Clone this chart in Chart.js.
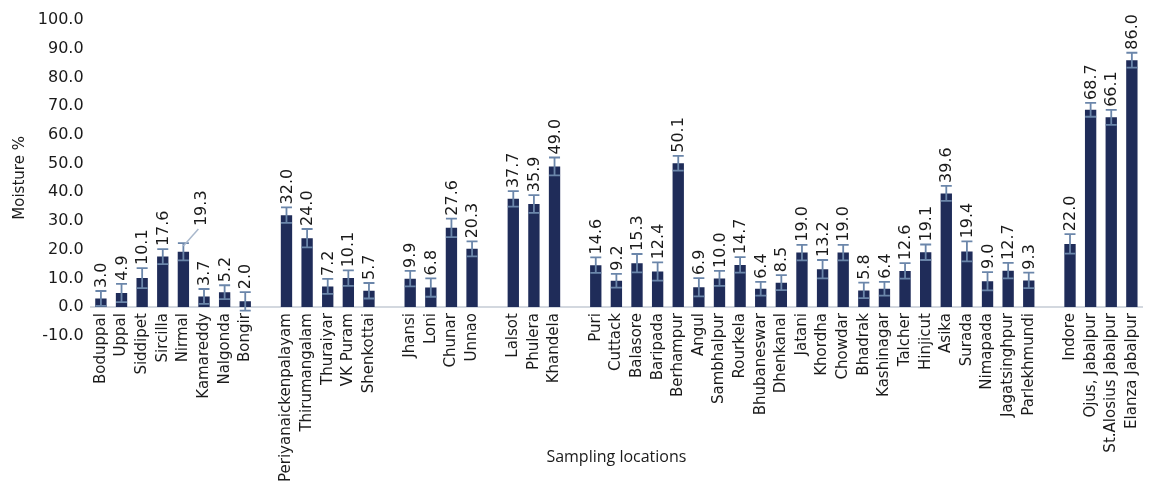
<!DOCTYPE html>
<html>
<head>
<meta charset="utf-8">
<title>Moisture by sampling location</title>
<script src="https://cdn.jsdelivr.net/npm/chart.js@4.4.0/dist/chart.umd.min.js"></script>
<style>
    html, body { margin: 0; padding: 0; background: #ffffff; }
    #chartWrap { width: 1156px; height: 489px; position: relative; }
</style>
</head>
<body>
<div id="chartWrap"><canvas id="moistureChart"></canvas></div>
<script>
// empty strings / nulls leave a blank slot between regions
const locations = [
    'Boduppal', 'Uppal', 'Siddipet', 'Sircilla', 'Nirmal', 'Kamareddy', 'Nalgonda', 'Bongir', '',
    'Periyanaickenpalayam', 'Thirumangalam', 'Thuraiyar', 'VK Puram', 'Shenkottai', '',
    'Jhansi', 'Loni', 'Chunar', 'Unnao', '',
    'Lalsot', 'Phulera', 'Khandela', '',
    'Puri', 'Cuttack', 'Balasore', 'Baripada', 'Berhampur', 'Angul', 'Sambhalpur', 'Rourkela',
    'Bhubaneswar', 'Dhenkanal', 'Jatani', 'Khordha', 'Chowdar', 'Bhadrak', 'Kashinagar', 'Talcher',
    'Hinjicut', 'Asika', 'Surada', 'Nimapada', 'Jagatsinghpur', 'Parlekhmundi', '',
    'Indore', 'Ojus, Jabalpur', 'St.Alosius Jabalpur', 'Elanza Jabalpur'
];

const moisture = [
    3.0, 4.9, 10.1, 17.6, 19.3, 3.7, 5.2, 2.0, null,
    32.0, 24.0, 7.2, 10.1, 5.7, null,
    9.9, 6.8, 27.6, 20.3, null,
    37.7, 35.9, 49.0, null,
    14.6, 9.2, 15.3, 12.4, 50.1, 6.9, 10.0, 14.7,
    6.4, 8.5, 19.0, 13.2, 19.0, 5.8, 6.4, 12.6,
    19.1, 39.6, 19.4, 9.0, 12.7, 9.3, null,
    22.0, 68.7, 66.1, 86.0
];

// standard deviation (±) per location
const errors = [
    2.6, 3.2, 3.5, 2.6, 3.0, 2.6, 2.4, 3.2, null,
    2.7, 3.2, 2.6, 2.7, 2.7, null,
    2.7, 3.2, 3.2, 2.6, null,
    2.7, 3.1, 3.1, null,
    2.7, 2.4, 3.2, 3.2, 2.6, 3.2, 2.6, 2.7,
    2.4, 2.6, 2.7, 3.2, 2.7, 2.7, 2.4, 2.7,
    2.7, 2.6, 3.5, 3.2, 2.7, 2.7, null,
    3.4, 2.4, 2.6, 2.6
];

const yMin = -10;
const yMax = 100;
const yStep = 10;

const errorBarPlugin = {
    id: 'errorBars',
    afterDatasetsDraw(chart, args, opts) {
        const ctx = chart.ctx;
        const yScale = chart.scales.y;
        const meta = chart.getDatasetMeta(0);
        const half = opts.capWidth / 2;

        ctx.save();
        ctx.strokeStyle = opts.color;
        ctx.lineWidth = opts.lineWidth;
        meta.data.forEach((bar, i) => {
            if (moisture[i] === null) return;
            const top = yScale.getPixelForValue(moisture[i] + errors[i]);
            const bottom = yScale.getPixelForValue(moisture[i] - errors[i]);
            ctx.beginPath();
            ctx.moveTo(bar.x, top);
            ctx.lineTo(bar.x, bottom);
            ctx.moveTo(bar.x - half, top);
            ctx.lineTo(bar.x + half, top);
            ctx.moveTo(bar.x - half, bottom);
            ctx.lineTo(bar.x + half, bottom);
            ctx.stroke();
        });
        ctx.restore();
    }
};

const valueLabelPlugin = {
    id: 'valueLabels',
    afterDatasetsDraw(chart, args, opts) {
        const ctx = chart.ctx;
        const yScale = chart.scales.y;
        const meta = chart.getDatasetMeta(0);

        ctx.save();
        ctx.font = opts.font;
        ctx.fillStyle = opts.color;
        ctx.textAlign = 'left';
        ctx.textBaseline = 'middle';
        meta.data.forEach((bar, i) => {
            if (moisture[i] === null) return;
            const capTop = yScale.getPixelForValue(moisture[i] + errors[i]);
            let x = bar.x + 1;
            let y = capTop - opts.gap;
            const nudge = opts.nudge[locations[i]];
            if (nudge) {
                x += nudge.dx;
                y += nudge.dy;
                // leader line back to the bar
                ctx.strokeStyle = opts.leaderColor;
                ctx.lineWidth = 1.5;
                ctx.beginPath();
                ctx.moveTo(bar.x, capTop + 3);
                ctx.lineTo(x - 3, y + 3);
                ctx.stroke();
            }
            ctx.save();
            ctx.translate(x, y);
            ctx.rotate(-Math.PI / 2);
            ctx.fillText(moisture[i].toFixed(1), 0, 0);
            ctx.restore();
        });
        ctx.restore();
    }
};

function createMoistureChart() {
    const ctx = document.getElementById('moistureChart').getContext('2d');

    new Chart(ctx, {
        type: 'bar',
        data: {
            labels: locations,
            datasets: [{
                label: 'Moisture %',
                data: moisture,
                backgroundColor: '#1f2c59',
                borderWidth: 0,
                barPercentage: 0.55,
                categoryPercentage: 1.0
            }]
        },
        options: {
            responsive: true,
            maintainAspectRatio: false,
            animation: false,
            layout: {
                padding: { top: 20, right: 4.6, bottom: 0, left: 0 }
            },
            plugins: {
                legend: { display: false },
                tooltip: { enabled: false },
                title: {
                    display: true,
                    text: 'Sampling locations',
                    position: 'bottom',
                    fullSize: false,
                    color: '#1a1a1a',
                    font: { family: 'Open Sans', size: 16, weight: 'normal' },
                    padding: { top: 112, bottom: 22 }
                },
                errorBars: {
                    color: '#6b86aa',
                    lineWidth: 1.8,
                    capWidth: 11
                },
                valueLabels: {
                    font: '16px "DejaVu Sans"',
                    color: '#1a1a1a',
                    gap: 3,
                    leaderColor: '#a9b8cc',
                    nudge: { 'Nirmal': { dx: 17, dy: -14 } }
                }
            },
            scales: {
                x: {
                    position: { y: 0 },
                    grid: { display: false, drawTicks: false },
                    border: { display: true, color: '#d3d8df', width: 2 },
                    ticks: {
                        autoSkip: false,
                        minRotation: 90,
                        maxRotation: 90,
                        padding: 6,
                        color: '#1a1a1a',
                        font: { family: 'DejaVu Sans', size: 15 }
                    }
                },
                y: {
                    min: yMin,
                    max: yMax,
                    grid: { display: false, drawTicks: false },
                    border: { display: false },
                    afterFit(scale) {
                        scale.width = 90.6;
                    },
                    title: {
                        display: true,
                        text: 'Moisture %',
                        color: '#1a1a1a',
                        font: { family: 'DejaVu Sans', size: 15 },
                        padding: { top: 11, bottom: 0 }
                    },
                    ticks: {
                        stepSize: yStep,
                        padding: 7,
                        color: '#1a1a1a',
                        font: { family: 'DejaVu Sans', size: 16 },
                        callback: (value) => value.toFixed(1)
                    }
                }
            }
        },
        plugins: [errorBarPlugin, valueLabelPlugin]
    });
}

createMoistureChart();
</script>
</body>
</html>
